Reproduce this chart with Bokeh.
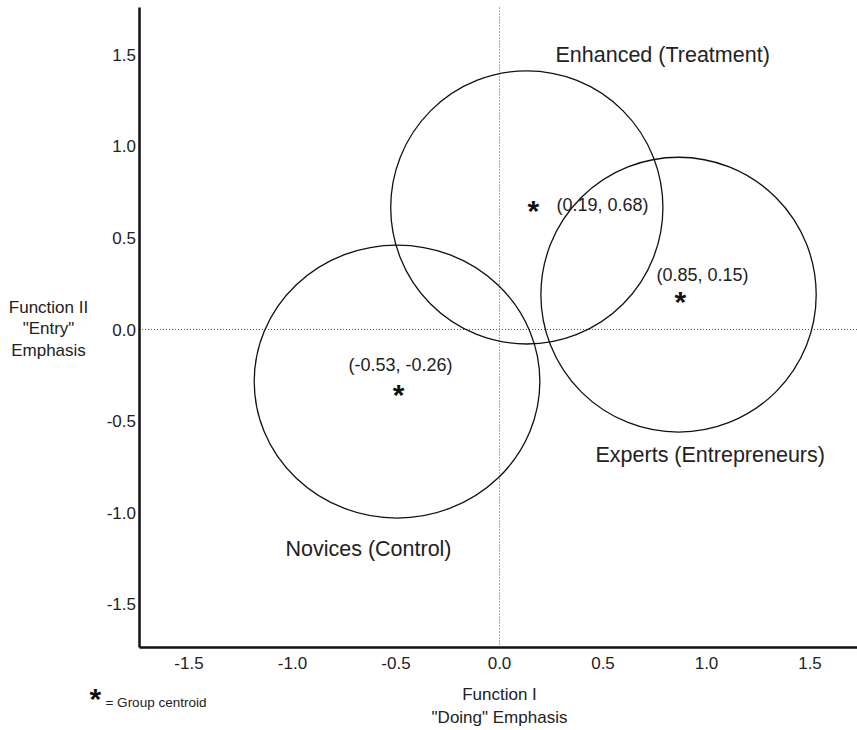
from bokeh.plotting import figure
from bokeh.models import Range1d, FixedTicker, Label, ColumnDataSource
from bokeh.core.properties import value
from bokeh.embed import file_html
from bokeh.resources import INLINE

# ---- data ----
group_names = ["Enhanced (Treatment)", "Experts (Entrepreneurs)", "Novices (Control)"]
circle_x = [0.132, 0.865, -0.495]
circle_y = [0.666, 0.19, -0.284]
circle_w = [1.315, 1.33, 1.38]
circle_h = [1.49, 1.50, 1.49]
centroid_x = [0.164, 0.874, -0.488]
centroid_y = [0.666, 0.169, -0.338]
centroid_labels = ["(0.19, 0.68)", "(0.85, 0.15)", "(-0.53, -0.26)"]
x_ticks = [-1.5, -1.0, -0.5, 0.0, 0.5, 1.0, 1.5]
x_tick_labels = ["-1.5", "-1.0", "-0.5", "0.0", "0.5", "1.0", "1.5"]
y_ticks = [-1.5, -1.0, -0.5, 0.0, 0.5, 1.0, 1.5]
y_tick_labels = ["-1.5", "-1.0", "-0.5", "0.0", "0.5", "1.0", "1.5"]
x_title = ["Function I", '"Doing" Emphasis']
y_title = ["Function II", '"Entry"', "Emphasis"]
legend_text = "= Group centroid"

# axis extents (data units)
X_AXIS_LO, X_AXIS_HI = -1.7415, 1.7295
Y_AXIS_LO, Y_AXIS_HI = -1.7349, 1.7567

FONT = "Liberation Sans"
TXT = "#222222"

p = figure(width=857, height=730,
           x_range=Range1d(-2.4106, 1.7295), y_range=Range1d(-2.1877, 1.7949),
           output_backend="svg", toolbar_location=None,
           min_border_left=0, min_border_right=0,
           min_border_top=0, min_border_bottom=0)
p.xgrid.grid_line_color = None
p.ygrid.grid_line_color = None
p.outline_line_color = None
p.background_fill_color = "white"
p.border_fill_color = "white"

p.xaxis.fixed_location = Y_AXIS_LO
p.xaxis.bounds = (X_AXIS_LO, X_AXIS_HI)
p.yaxis.fixed_location = X_AXIS_LO
p.yaxis.bounds = (Y_AXIS_LO, Y_AXIS_HI)

for ax, ticks, labels, standoff in ((p.xaxis[0], x_ticks, x_tick_labels, 9),
                                    (p.yaxis[0], y_ticks, y_tick_labels, 3)):
    ax.ticker = FixedTicker(ticks=ticks)
    ax.major_label_overrides = {t: l for t, l in zip(ticks, labels)}
    ax.axis_line_color = "#111111"
    ax.axis_line_width = 2.5
    ax.major_tick_line_color = None
    ax.minor_tick_line_color = None
    ax.major_tick_out = 0
    ax.major_tick_in = 0
    ax.major_label_standoff = standoff
    ax.major_label_text_font = FONT
    ax.major_label_text_font_size = "17px"
    ax.major_label_text_color = TXT

# dotted zero reference lines, spanning the axis extents
p.segment(x0=[0.0, X_AXIS_LO], y0=[Y_AXIS_LO, 0.0],
          x1=[0.0, X_AXIS_HI], y1=[Y_AXIS_HI, 0.0],
          line_color="#555555", line_dash="1 2", line_width=1)

# group circles
src = ColumnDataSource(dict(x=circle_x, y=circle_y, w=circle_w, h=circle_h))
p.ellipse(x="x", y="y", width="w", height="h", source=src,
          fill_color=None, line_color="#111111", line_width=1.3)

# centroid stars
p.text(x=centroid_x, y=centroid_y, text=["*"] * len(centroid_x),
       text_font=value(FONT), text_font_style="bold", text_font_size="30px",
       text_align="center", text_baseline="alphabetic", y_offset=3,
       text_color="#111111")

# centroid coordinate labels (offsets in screen px relative to the star)
label_offsets = [(23, -2, "left"), (22, -24, "center"), (2, -26, "center")]
for i, (dx, dy, al) in enumerate(label_offsets):
    p.text(x=[centroid_x[i]], y=[centroid_y[i]], text=[centroid_labels[i]],
           x_offset=dx, y_offset=dy, text_align=al, text_baseline="middle",
           text_font=value(FONT), text_font_size="18px", text_color=TXT)

# group names
name_pos = [(0.2705, 1.495), (0.4638, -0.687), (-1.034, -1.195)]
for (nx, ny), name in zip(name_pos, group_names):
    p.add_layout(Label(x=nx, y=ny, text=name, text_align="left",
                       text_baseline="middle", text_font=FONT,
                       text_font_size="21.5px", text_color=TXT))

# axis titles
for yy, t in zip([0.12, 0.0055, -0.1146], y_title):
    p.add_layout(Label(x=-2.1787, y=yy, text=t, text_align="center",
                       text_baseline="middle", text_font=FONT,
                       text_font_size="17px", text_color=TXT))
for yy, t in zip([-1.9913, -2.1168], x_title):
    p.add_layout(Label(x=0.0, y=yy, text=t, text_align="center",
                       text_baseline="middle", text_font=FONT,
                       text_font_size="17px", text_color=TXT))

# legend note
p.text(x=[-1.952], y=[-1.997], text=["*"], text_font=value(FONT),
       text_font_style="bold", text_font_size="30px", text_align="center",
       text_baseline="alphabetic", y_offset=3, text_color="#111111")
p.add_layout(Label(x=-1.9034, y=-2.0349, text=legend_text, text_align="left",
                   text_baseline="middle", text_font=FONT,
                   text_font_size="13.5px", text_color=TXT))

open("out.html", "w").write(file_html(p, INLINE))
